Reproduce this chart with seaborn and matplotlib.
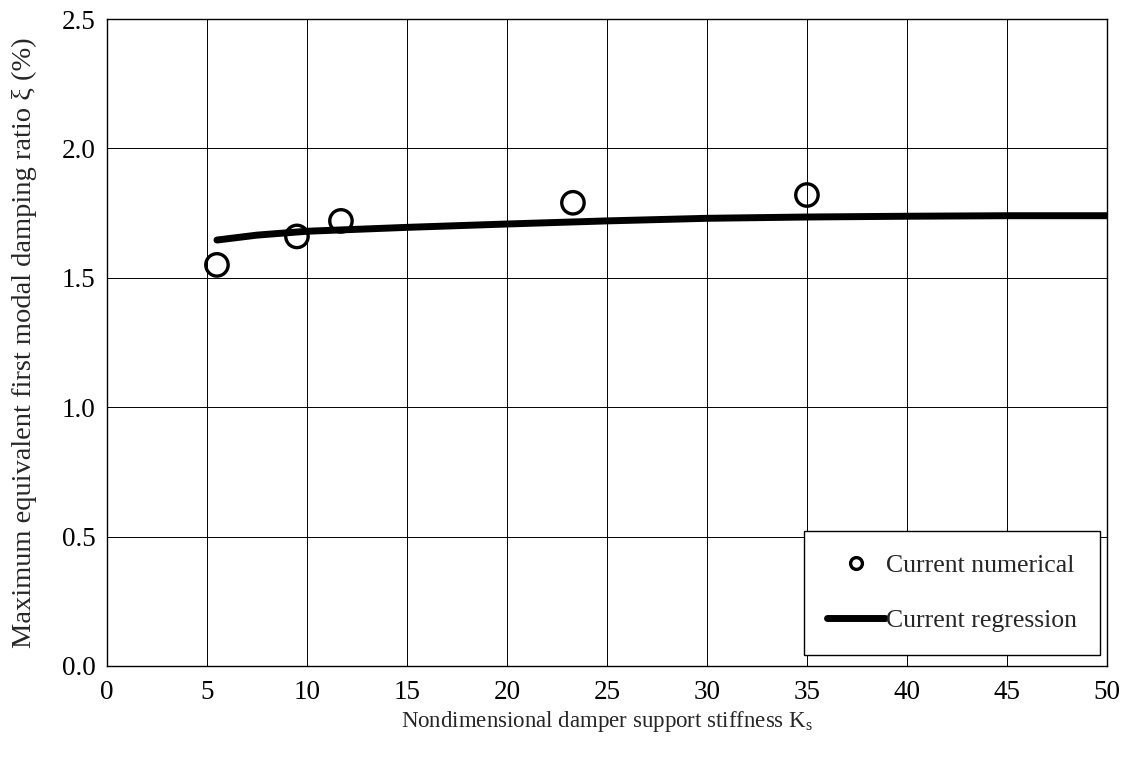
import matplotlib
matplotlib.use("Agg")
import matplotlib.pyplot as plt
import seaborn as sns
import pandas as pd
from matplotlib.lines import Line2D

# Numerical results: support stiffness vs. maximum damping ratio
ks_numerical = [5.5, 9.5, 11.7, 23.3, 35.0]
xi_numerical = [1.55, 1.66, 1.72, 1.79, 1.82]

# Regression curve samples
ks_regression = [5.5, 7.5, 10, 15, 20, 25, 30, 35, 40, 45, 50]
xi_regression = [1.646, 1.665, 1.680, 1.695, 1.708, 1.720, 1.730, 1.735, 1.738, 1.740, 1.740]

x_ticks = list(range(0, 51, 5))
y_ticks = [0.0, 0.5, 1.0, 1.5, 2.0, 2.5]

sns.set_style("white")
plt.rcParams["font.family"] = ["Liberation Serif", "DejaVu Serif"]
plt.rcParams["mathtext.fontset"] = "stix"

fig = plt.figure(figsize=(11.33, 7.62), dpi=100)
ax = fig.add_axes([0.0944, 0.126, 0.8826, 0.849])

df_num = pd.DataFrame({"Ks": ks_numerical, "xi": xi_numerical})
df_reg = pd.DataFrame({"Ks": ks_regression, "xi": xi_regression})

sns.lineplot(data=df_reg, x="Ks", y="xi", ax=ax, color="black", linewidth=5,
             solid_capstyle="round", zorder=3)
sns.scatterplot(data=df_num, x="Ks", y="xi", ax=ax, marker="o", s=260,
                facecolor="none", edgecolor="black", linewidth=2.4, zorder=4)

ax.set_xlim(0, 50)
ax.set_ylim(0, 2.5)
ax.set_xticks(x_ticks)
ax.set_yticks(y_ticks)
ax.set_xticklabels([str(t) for t in x_ticks])
ax.set_yticklabels([f"{t:.1f}" for t in y_ticks])
ax.tick_params(axis="x", labelsize=19.5, length=0, pad=10, colors="black")
ax.tick_params(axis="y", labelsize=19.5, length=0, pad=8, colors="black")

ax.grid(True, color="black", linewidth=0.7)
for s in ax.spines.values():
    s.set_color("black")
    s.set_linewidth(1.0)

ax.set_xlabel(r"Nondimensional damper support stiffness K$_\mathregular{s}$", fontsize=16.5, labelpad=3)
ax.set_ylabel("Maximum equivalent first modal damping ratio ξ (%)", fontsize=20.5, labelpad=18)

handles = [
    Line2D([], [], linestyle="none", marker="o", markersize=8.5, markerfacecolor="none",
           markeredgecolor="black", markeredgewidth=2.4),
    Line2D([], [], color="black", linewidth=5),
]
leg = ax.legend(handles, ["Current numerical", "Current regression"], loc="lower right",
                bbox_to_anchor=(0.993, 0.017), borderaxespad=0, fontsize=18.5,
                frameon=True, fancybox=False, shadow=False, edgecolor="black",
                framealpha=1, handlelength=2.25, handletextpad=0.05, labelspacing=1.25,
                borderpad=0.9)
leg.get_frame().set_linewidth(1.0)

fig.savefig("out.png", dpi=100)
